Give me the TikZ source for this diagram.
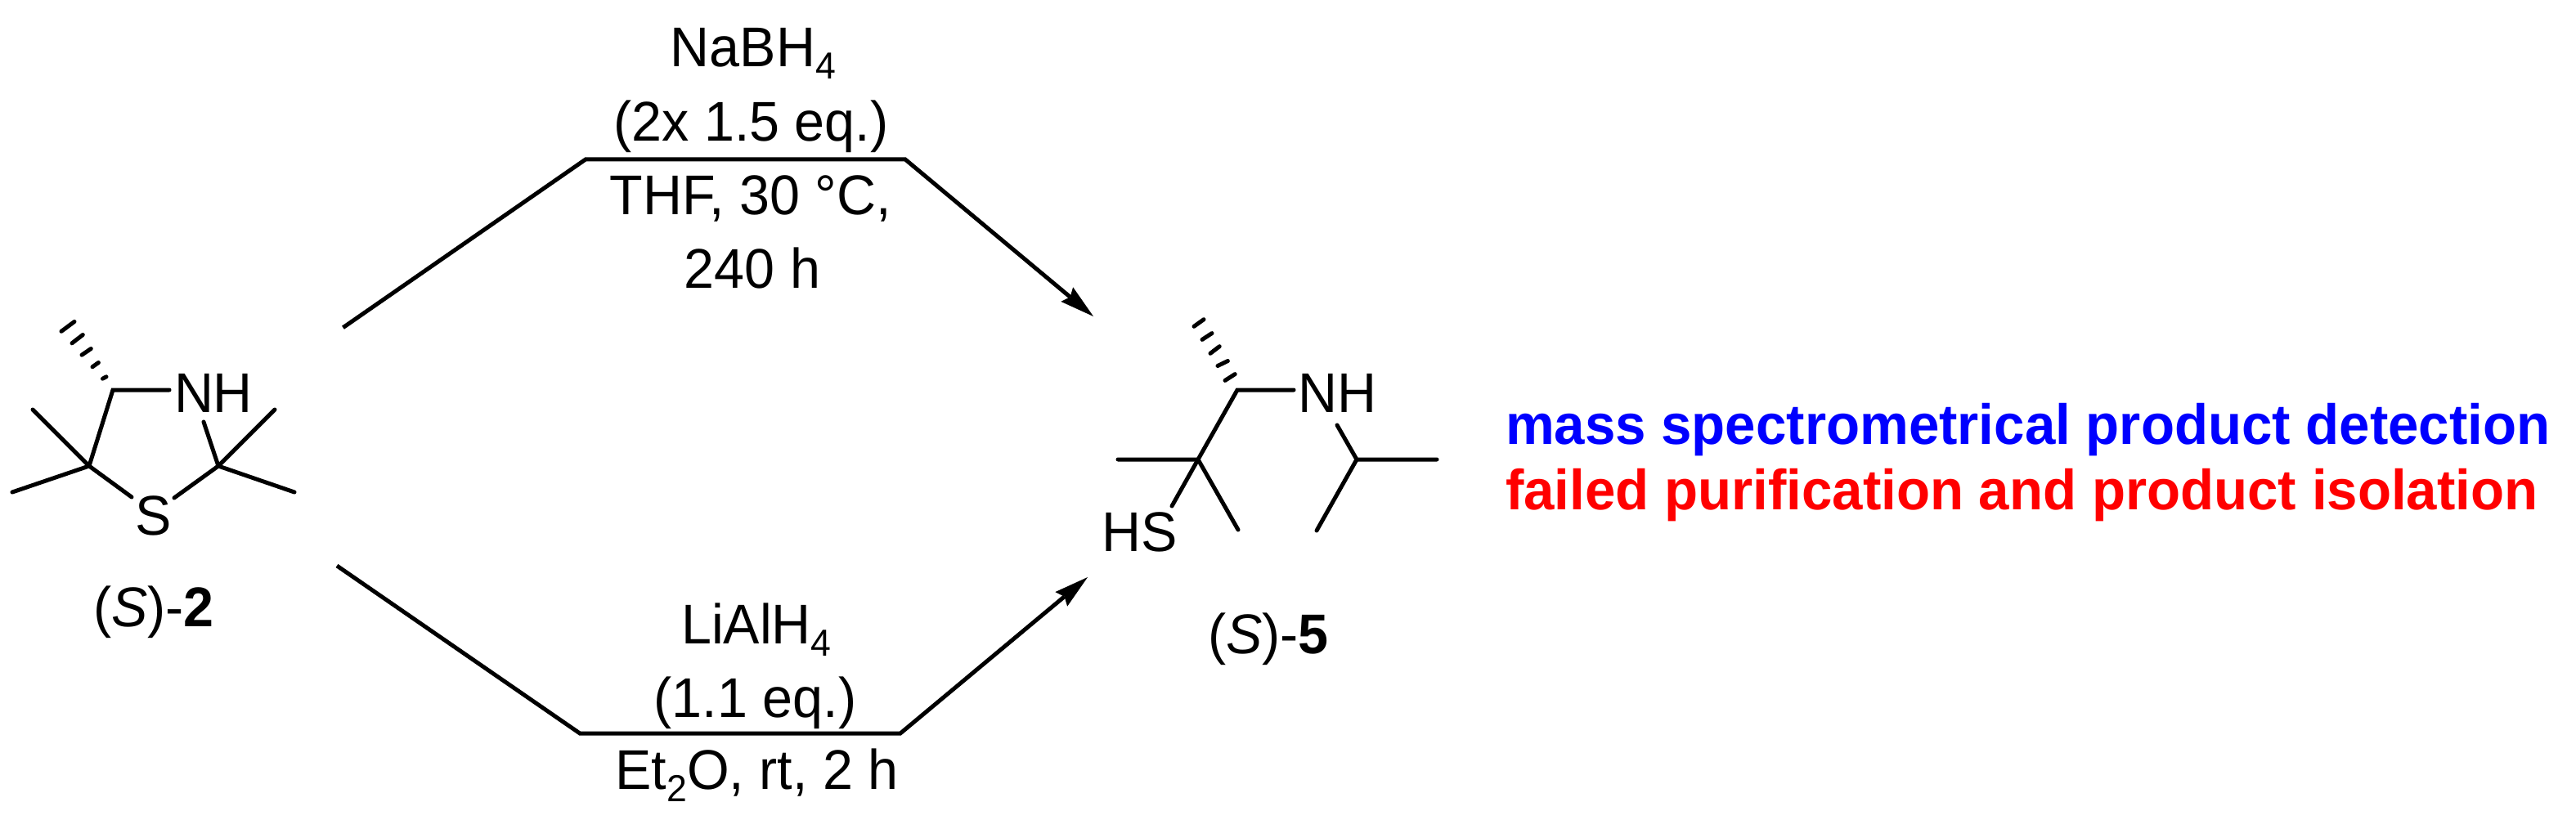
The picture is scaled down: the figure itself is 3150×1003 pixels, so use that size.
\documentclass[tikz,border=0pt]{standalone}
\usepackage{fontspec}
\setmainfont[FakeStretch=0.97]{Liberation Sans}
\usetikzlibrary{arrows.meta}
\newcommand{\lowidx}[1]{\raisebox{-15pt}{\fontsize{46}{46}\selectfont #1}}
\tikzset{
  bond/.style={line width=5pt,line cap=round,line join=miter},
  hashbar/.style={line width=5pt,line cap=round},
  route/.style={line width=5pt,line join=miter,-{Stealth[length=42pt,width=23pt,inset=5pt,line width=0pt]}},
  chem/.style={inner sep=0pt,outer sep=0pt,anchor=base,font=\fontsize{68.5}{68.5}\selectfont},
  remark/.style={inner sep=0pt,outer sep=0pt,anchor=base west,font=\fontsize{69.3}{69.3}\selectfont\bfseries}
}
\begin{document}
\begin{tikzpicture}[x=1pt,y=-1pt]
\useasboundingbox (0,0) rectangle (3150,1003);
% ---- compound (S)-2
\node[chem] (nh2) at (261,504) {NH};
\node[chem] (s2) at (187.5,654) {S};
\node[chem] (lab2) at (188,766) {(\textit{S})-\textbf{2}};
\coordinate (a4) at (138,477);
\coordinate (a4n) at (207,477);
\coordinate (a5) at (109,570);
\coordinate (a5u) at (40,501);
\coordinate (a5l) at (15,602);
\coordinate (a5s) at (161,608);
\coordinate (a2) at (267,570);
\coordinate (a2u) at (336,501);
\coordinate (a2r) at (360,602);
\coordinate (a2s) at (213,609);
\coordinate (a2n) at (249,516);
\draw[bond] (a4n) -- (a4) -- (a5) -- (a5s);
\draw[bond] (a5u) -- (a5) -- (a5l);
\draw[bond] (a2s) -- (a2) -- (a2n);
\draw[bond] (a2u) -- (a2) -- (a2r);
\draw[hashbar] (125.5,463.2) -- (130,460.8);
\draw[hashbar] (113,448.8) -- (120.4,443.5);
\draw[hashbar] (100,434.2) -- (111.3,426.5);
\draw[hashbar] (88,419.8) -- (101.3,409.5);
\draw[hashbar] (75,405.3) -- (91,393.4);
% ---- reaction routes
\coordinate (t0) at (419.5,400.7);
\coordinate (t1) at (716,195);
\coordinate (t2) at (1107,195);
\coordinate (t3) at (1337,387);
\coordinate (b0) at (412,692);
\coordinate (b1) at (709,897);
\coordinate (b2) at (1101,897);
\coordinate (b3) at (1330,706);
\draw[route] (t0) -- (t1) -- (t2) -- (t3);
\draw[route] (b0) -- (b1) -- (b2) -- (b3);
\node[chem] (r1) at (921,82) {NaBH\lowidx{4}};
\node[chem] (r2) at (918.5,173) {(2x 1.5 eq.)};
\node[chem] (r3) at (917.5,262) {THF, 30 °C,};
\node[chem] (r4) at (920,352) {240 h};
\node[chem] (r5) at (925,787) {LiAlH\lowidx{4}};
\node[chem] (r6) at (923.5,877) {(1.1 eq.)};
\node[chem] (r7) at (925.5,965) {Et\lowidx{2}O, rt, 2 h};
% ---- compound (S)-5
\node[chem] (nh5) at (1635.5,504) {NH};
\node[chem] (hs5) at (1393.5,674) {HS};
\node[chem] (lab5) at (1551,799) {(\textit{S})-\textbf{5}};
\coordinate (c1) at (1513,477);
\coordinate (c1n) at (1582,477);
\coordinate (c2) at (1465,562);
\coordinate (c2l) at (1367,562);
\coordinate (c2s) at (1433,619);
\coordinate (c2d) at (1514,648);
\coordinate (c3) at (1659,562);
\coordinate (c3n) at (1635,520);
\coordinate (c3r) at (1757,562);
\coordinate (c3d) at (1610,649);
\draw[bond] (c1n) -- (c1) -- (c2) -- (c2s);
\draw[bond] (c2l) -- (c2) -- (c2d);
\draw[bond] (c3n) -- (c3) -- (c3r);
\draw[bond] (c3) -- (c3d);
\draw[hashbar] (1498,465.4) -- (1510.2,457.6);
\draw[hashbar] (1489,447.5) -- (1501.4,441.5);
\draw[hashbar] (1480,432.3) -- (1491.2,423.7);
\draw[hashbar] (1470,415.4) -- (1482,407.6);
\draw[hashbar] (1460,399.3) -- (1472,390.7);
% ---- remarks
\node[remark,text={rgb,255:red,0;green,0;blue,255}] (m1) at (1841,543) {mass spectrometrical product detection};
\node[remark,text={rgb,255:red,255;green,0;blue,0}] (m2) at (1841,623) {failed purification and product isolation};
\end{tikzpicture}
\end{document}
